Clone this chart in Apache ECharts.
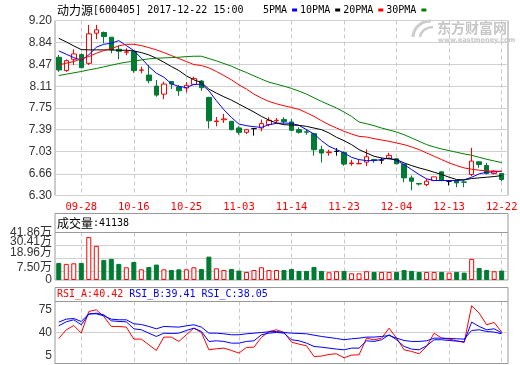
<!DOCTYPE html>
<html><head><meta charset="utf-8">
<script src="https://cdn.jsdelivr.net/npm/echarts@6/dist/echarts.min.js"></script>
<style>html,body{margin:0;padding:0;background:#fff}#c{width:520px;height:365px}</style>
</head><body><div id="c"></div>
<script>
const dates = ['09-25','09-26','09-27','09-28','09-29','10-09','10-10','10-11','10-12','10-13',
'10-16','10-17','10-18','10-19','10-20','10-23','10-24','10-25','10-26','10-27',
'10-30','10-31','11-01','11-02','11-03','11-06','11-07','11-08','11-09','11-10',
'11-13','11-14','11-15','11-16','11-17','11-20','11-21','11-22','11-23','11-24',
'11-27','11-28','11-29','11-30','12-01','12-04','12-05','12-06','12-07','12-08',
'12-11','12-12','12-13','12-14','12-15','12-18','12-19','12-20','12-21','12-22'];
const labelDates = ['09-28','10-16','10-25','11-03','11-14','11-23','12-04','12-13','12-22'];

const opens = [8.59,8.37,8.557,8.635,8.49,8.99,9.001,8.923,8.723,8.674,
8.685,8.375,8.296,8.113,7.98,8.19,8.10,8.08,8.141,8.197,
7.925,7.525,7.555,7.53,7.419,7.347,7.408,7.419,7.475,7.54,
7.558,7.519,7.391,7.355,7.325,7.059,7.01,7.031,7.014,6.83,
6.825,6.853,6.895,6.886,6.914,6.908,6.814,6.592,6.498,6.481,
6.548,6.692,6.537,6.548,6.525,6.648,6.858,6.797,6.664,6.664];
const closes = [8.38,8.535,8.646,8.418,8.979,9.045,8.934,8.712,8.69,8.68,
8.369,8.38,8.202,7.964,8.147,8.147,8.036,8.125,8.24,8.086,
7.537,7.535,7.569,7.391,7.347,7.391,7.408,7.491,7.547,7.547,
7.525,7.38,7.347,7.35,7.059,7.003,7.02,7.031,6.82,6.84,
6.83,6.942,6.885,6.886,6.964,6.825,6.592,6.537,6.49,6.537,
6.609,6.548,6.537,6.509,6.52,6.87,6.814,6.664,6.703,6.565];
const lows = [8.35,8.35,8.463,8.407,8.463,8.89,8.823,8.657,8.557,8.624,
8.335,8.324,8.158,7.936,7.897,8.064,7.953,8.008,8.13,8.036,
7.41,7.447,7.502,7.38,7.308,7.32,7.292,7.364,7.447,7.50,
7.491,7.364,7.325,7.308,6.959,6.848,6.959,6.959,6.793,6.793,
6.82,6.786,6.842,6.825,6.908,6.82,6.52,6.387,6.465,6.454,
6.537,6.537,6.465,6.437,6.437,6.62,6.759,6.648,6.648,6.537];
const highs = [8.63,8.557,8.723,8.657,9.128,9.128,9.017,8.923,8.785,8.74,
8.70,8.435,8.463,8.213,8.186,8.197,8.13,8.18,8.269,8.213,
7.936,7.602,7.652,7.535,7.447,7.402,7.419,7.558,7.597,7.585,
7.597,7.569,7.43,7.402,7.336,7.125,7.059,7.087,7.031,6.892,
6.903,7.064,6.908,6.925,7.008,6.919,6.825,6.631,6.509,6.576,
6.609,6.703,6.553,6.548,6.548,7.091,6.87,6.842,6.72,6.675];
const volumes = [15.0,14.2,14.7,15.0,37.8,30.1,17.7,18.6,14.2,11.2,
15.9,9.4,11.5,13.6,9.4,8.8,9.4,9.4,11.2,9.7,
20.6,10.3,8.8,9.7,8.3,7.1,8.8,11.2,8.8,8.8,
8.8,9.7,8.0,8.0,11.5,8.0,6.8,7.7,8.0,5.9,
5.9,7.7,7.1,7.1,7.1,7.1,8.8,8.0,7.1,7.1,
7.1,7.1,6.5,7.1,6.5,18.6,10.6,8.8,7.7,8.3];
const ma5 = [8.696,8.641,8.586,8.542,8.63,8.757,8.806,8.823,8.867,8.784,
8.702,8.575,8.437,8.327,8.261,8.151,8.107,8.09,8.14,8.145,
8.035,7.87,7.721,7.594,7.484,7.457,7.44,7.429,7.473,7.495,
7.501,7.495,7.462,7.391,7.319,7.209,7.115,7.06,7.005,6.933,
6.895,6.878,6.878,6.895,6.922,6.878,6.812,6.73,6.647,6.575,
6.548,6.548,6.548,6.548,6.559,6.603,6.658,6.686,6.691,6.702];
const ma10 = [8.905,8.845,8.779,8.718,8.713,8.713,8.713,8.713,8.707,8.707,
8.696,8.668,8.63,8.575,8.509,8.437,8.371,8.283,8.217,8.173,
8.063,7.997,7.936,7.881,7.815,7.749,7.683,7.611,7.55,7.501,
7.473,7.468,7.462,7.446,7.418,7.391,7.336,7.264,7.209,7.143,
7.06,7.005,6.95,6.922,6.906,6.895,6.84,6.796,6.757,6.724,
6.686,6.647,6.603,6.564,6.559,6.581,6.592,6.603,6.614,6.63];
const ma20 = [8.465,8.492,8.52,8.564,8.602,8.657,8.702,8.735,8.779,8.806,
8.806,8.784,8.751,8.713,8.669,8.619,8.569,8.52,8.47,8.454,
8.415,8.355,8.288,8.217,8.134,8.063,7.98,7.914,7.859,7.82,
7.787,7.76,7.727,7.672,7.611,7.539,7.473,7.418,7.363,7.319,
7.28,7.269,7.242,7.22,7.198,7.17,7.143,7.104,7.06,7.005,
6.95,6.895,6.84,6.796,6.757,6.735,6.719,6.708,6.702,6.702];
const ma30 = [8.288,8.31,8.333,8.355,8.382,8.404,8.432,8.459,8.487,8.509,
8.525,8.547,8.564,8.575,8.58,8.586,8.591,8.602,8.608,8.608,
8.569,8.531,8.487,8.443,8.388,8.338,8.283,8.228,8.178,8.145,
8.112,8.074,8.03,7.98,7.919,7.859,7.804,7.749,7.683,7.611,
7.517,7.49,7.457,7.418,7.385,7.352,7.308,7.253,7.198,7.143,
7.104,7.071,7.044,7.016,6.989,6.967,6.933,6.9,6.873,6.845];
const rsiA = [30.8,44.1,50.8,39.0,72.4,75.0,64.7,49.3,49.3,48.3,
29.8,29.8,21.0,12.3,32.9,32.9,26.2,36.5,46.7,40.0,
13.3,14.9,15.9,12.3,8.2,16.9,17.4,32.5,41.6,44.2,
40.1,25.2,22.1,19.5,3.0,3.6,6.2,7.2,1.0,5.1,
5.6,31.3,28.7,31.3,46.7,31.3,13.3,10.8,7.2,18.5,
39.0,31.3,29.8,27.2,24.6,81.2,69.9,51.9,55.5,40.42];
const rsiB = [50.3,56.5,59.6,51.9,68.3,69.8,67.3,58.0,57.0,56.5,
45.7,44.2,39.0,33.9,39.0,38.5,39.0,43.1,46.7,41.6,
26.2,27.2,26.2,23.6,23.6,26.2,27.2,36.5,39.0,40.1,
39.0,28.8,27.2,23.6,18.5,17.4,15.9,14.4,13.3,15.9,
15.9,27.2,26.2,28.8,36.5,28.8,18.5,14.4,13.3,19.5,
28.8,28.8,27.7,26.7,25.7,56.0,49.3,44.2,45.7,39.41];
const rsiC = [56.0,60.6,61.6,57.0,68.8,68.8,65.7,60.6,59.6,59.6,
53.4,52.4,49.3,45.7,49.3,48.8,48.3,50.3,51.9,48.3,
39.0,39.0,38.0,36.5,36.5,38.0,39.0,40.0,41.1,41.6,
40.0,39.0,38.5,38.0,35.9,33.9,32.3,30.8,28.8,30.3,
31.3,32.9,32.9,33.9,35.4,31.3,27.7,26.2,26.2,27.2,
31.3,31.3,30.8,30.3,29.8,43.1,44.2,41.6,40.6,38.05];
const priceTicks = [6.30,6.66,7.03,7.39,7.75,8.11,8.47,8.84,9.20];
const volTicksA = [0,18.96,41.86];
const volTicksB = [7.50,30.41];
const rsiTicks = [5,40,75];

const RED = '#ff0000', GREEN = '#007b33', BLUE = '#0000ff', BORDER = '#999', GRIDC = '#d0d0d0';
const MONO = '"DejaVu Sans Mono", monospace';
const CJK = '"Noto Sans CJK SC"';
const SANS = '"Liberation Sans", "Noto Sans CJK SC", sans-serif';

const labelIdx = labelDates.map(d => dates.indexOf(d));
const candles = dates.map((d, i) => [i, opens[i], closes[i], lows[i], highs[i]]);
const volData = volumes.map((v, i) => {
  const up = closes[i] >= opens[i];
  return { value: [i, v], itemStyle: { color: up ? '#fff' : GREEN, borderColor: up ? RED : GREEN } };
});
const pair = arr => arr.map((v, i) => [i, v]);

const X_MIN = -0.5, X_MAX = 59.84;
function xAxisFor(gi, showLabels) {
  return {
    type: 'value', gridIndex: gi, min: X_MIN, max: X_MAX,
    axisLine: { show: false },
    axisTick: { show: false, customValues: labelIdx },
    axisLabel: { show: showLabels, customValues: labelIdx, formatter: v => dates[Math.round(v)] || '',
      color: RED, fontFamily: MONO, fontSize: 10.5, margin: 6, showMinLabel: true, showMaxLabel: true, hideOverlap: false },
    splitLine: { show: true, lineStyle: { color: '#c8c8c8', type: [4, 3], width: 1 } }
  };
}
function yAxisFor(gi, min, max, ticks, fmt, splitColors, rich) {
  return {
    type: 'value', gridIndex: gi, min: min, max: max, position: 'left', offset: 0,
    axisLine: { show: false },
    axisTick: { show: false, customValues: ticks },
    axisLabel: { customValues: ticks, formatter: fmt, color: '#333', fontFamily: SANS, fontSize: 12, margin: 3,
      showMinLabel: true, showMaxLabel: true, hideOverlap: false, rich: rich || {} },
    splitLine: { show: true, lineStyle: { color: splitColors, width: 1 } }
  };
}
// the crowded volume labels sit a little above their grid lines, as in the reference
const volLabelRich = {
  u4: { fontFamily: SANS, fontSize: 12, color: '#333', padding: [0, 0, 8, 0] },
  u6: { fontFamily: SANS, fontSize: 12, color: '#333', padding: [0, 0, 11, 0] }
};
function volFmt(v) {
  if (v === 0) return '0';
  const t = v.toFixed(2) + '万';
  if (v === 30.41 || v === 7.50) return '{u4|' + t + '}';
  if (v === 18.96) return '{u6|' + t + '}';
  return t;
}
const gridBase = { left: 55, width: 453, show: true, borderColor: BORDER, borderWidth: 1, backgroundColor: 'transparent', outerBoundsMode: 'none', containLabel: false };

const lineS = (name, data, color, xi, yi) => ({
  name: name, type: 'line', data: pair(data), xAxisIndex: xi, yAxisIndex: yi,
  symbol: 'none', showSymbol: false, lineStyle: { width: 1, color: color }, itemStyle: { color: color },
  silent: true, z: 3
});

const option = {
  animation: false,
  backgroundColor: '#fff',
  grid: [
    Object.assign({}, gridBase, { top: 20.5, height: 175 }),
    Object.assign({}, gridBase, { top: 232.5, height: 47.5 }),
    Object.assign({}, gridBase, { top: 301.5, height: 62 })
  ],
  legend: {
    data: ['5PMA', '10PMA', '20PMA', '30PMA'], left: 263, top: 5, padding: 0,
    icon: 'rect', itemWidth: 5, itemHeight: 3, itemGap: 3, align: 'right', selectedMode: false,
    textStyle: { fontFamily: MONO, fontSize: 10, color: '#000' }
  },
  xAxis: [xAxisFor(0, true), xAxisFor(1, false), xAxisFor(2, false)],
  yAxis: [
    yAxisFor(0, 6.30, 9.20, priceTicks, v => v.toFixed(2), GRIDC),
    yAxisFor(1, 0, 41.86, volTicksA, volFmt, GRIDC, volLabelRich),
    yAxisFor(2, -7.8, 87.8, rsiTicks, v => String(v), ['rgba(0,0,0,0)', GRIDC, 'rgba(0,0,0,0)']),
    yAxisFor(1, 0, 41.86, volTicksB, volFmt, GRIDC, volLabelRich)
  ],
  series: [
    {
      type: 'candlestick', xAxisIndex: 0, yAxisIndex: 0, data: candles, barWidth: 5, silent: true,
      itemStyle: { color: '#fff', color0: GREEN, borderColor: RED, borderColor0: GREEN, borderColorDoji: '#000', borderWidth: 1 }
    },
    lineS('5PMA', ma5, BLUE, 0, 0),
    lineS('10PMA', ma10, '#000', 0, 0),
    lineS('20PMA', ma20, RED, 0, 0),
    lineS('30PMA', ma30, '#008000', 0, 0),
    { type: 'bar', xAxisIndex: 1, yAxisIndex: 1, data: volData, barWidth: 5, silent: true, itemStyle: { borderWidth: 1 } },
    lineS('RSI_A', rsiA, RED, 2, 2),
    lineS('RSI_B', rsiB, BLUE, 2, 2),
    lineS('RSI_C', rsiC, BLUE, 2, 2)
  ],
  graphic: [
    { type: 'text', x: 57, y: 10, z: 10, style: { text: '{c|动力源}{m|[600405] 2017-12-22 15:00}', verticalAlign: 'middle', fill: '#000', font: '10px ' + MONO,
      rich: { c: { fontFamily: CJK, fontSize: 12, fill: '#000' }, m: { fontFamily: MONO, fontSize: 10, fill: '#000' } } } },
    { type: 'bezierCurve', z: 0, shape: { x1: 413, y1: 37, x2: 431, y2: 21, cpx1: 414, cpy1: 25, cpx2: 424, cpy2: 21 }, style: { stroke: '#cccccc', lineWidth: 3, fill: 'none' } },
    { type: 'bezierCurve', z: 0, shape: { x1: 420, y1: 37, x2: 433, y2: 27, cpx1: 421, cpy1: 30, cpx2: 428, cpy2: 27 }, style: { stroke: '#cccccc', lineWidth: 2.5, fill: 'none' } },
    { type: 'text', x: 437, y: 21, z: 0, style: { text: '东方财富网', font: 'bold 14px ' + CJK, fill: '#c6c6c6' } },
    { type: 'text', x: 438, y: 37, z: 0, style: { text: 'www.eastmoney.com', font: 'bold 6.5px "DejaVu Sans"', fill: '#c6c6c6' } },
    { type: 'rect', z: 10, shape: { x: 55, y: 213.5, width: 453, height: 19 }, style: { fill: 'none', stroke: BORDER, lineWidth: 1 } },
    { type: 'text', x: 57, y: 223, z: 10, style: { text: '{c|成交量}{m|:41138}', verticalAlign: 'middle', fill: '#000', font: '10px ' + MONO,
      rich: { c: { fontFamily: CJK, fontSize: 12, fill: '#000' }, m: { fontFamily: MONO, fontSize: 10, fill: '#000' } } } },
    { type: 'rect', z: 10, shape: { x: 55, y: 287.5, width: 453, height: 14 }, style: { fill: 'none', stroke: BORDER, lineWidth: 1 } },
    { type: 'text', x: 57, y: 294.5, z: 10, style: { text: '{r|RSI_A:40.42} {b|RSI_B:39.41} {b|RSI_C:38.05}', verticalAlign: 'middle', fill: '#000', font: '10px ' + MONO,
      rich: { r: { fontFamily: MONO, fontSize: 10, fill: RED }, b: { fontFamily: MONO, fontSize: 10, fill: BLUE } } } }
  ]
};
const chart = echarts.init(document.getElementById('c'), null, { renderer: 'canvas' });
chart.setOption(option);
</script></body></html>
